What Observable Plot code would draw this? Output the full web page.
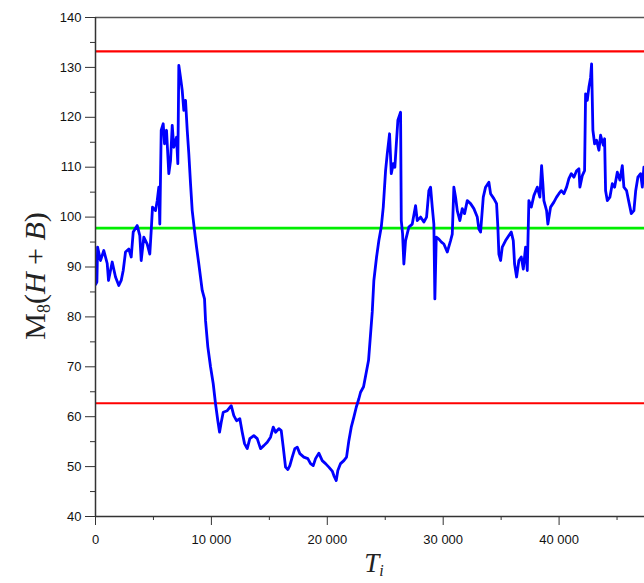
<!DOCTYPE html>
<html>
<head>
<meta charset="utf-8">
<script src="https://cdn.jsdelivr.net/npm/d3@7"></script>
<script src="https://cdn.jsdelivr.net/npm/@observablehq/plot@0.6"></script>
<style>
  html, body { margin: 0; padding: 0; background: #fff; overflow: hidden; }
</style>
</head>
<body>
<div id="chart"></div>
<script>
// Time index T_i
const T = [0, 120, 180, 431, 716, 1010, 1122, 1441, 1726, 2011, 2218, 2391, 2589, 2874, 3081, 3254, 3599, 3823, 3944, 4168, 4462, 4686, 4807, 4919, 5178, 5325, 5463, 5549, 5670, 5843, 5955, 6127, 6326, 6473, 6620, 6757, 6990, 7103, 7189, 7335, 7482, 7620, 7767, 7914, 8052, 8199, 8345, 8544, 8717, 8915, 9208, 9407,
  9493, 9692, 9925, 10158, 10356, 10555, 10702, 10849, 11021, 11366, 11711, 11936, 12168, 12453, 12660, 12859, 13092, 13316, 13661, 13955, 14240, 14524, 14818, 15103, 15336, 15534, 15819, 16026, 16199, 16397, 16596, 16768, 16975, 17200, 17407, 17631, 17976, 18321, 18555, 18787, 18986, 19271, 19564, 19849, 20134, 20427, 20565, 20772, 20910, 21144, 21428, 21661, 21860, 22067, 22292, 22499, 22723, 22870, 23129, 23560, 23880,
  24018, 24251, 24450, 24657, 24830, 25029, 25175, 25373, 25520, 25693, 25831, 25977, 26090, 26322, 26383, 26495, 26607, 26753, 27038, 27331, 27616, 27763, 28048, 28332, 28565, 28764, 28911, 29057, 29195, 29282, 29403, 29627, 29850,
  30058, 30351, 30637, 30784, 30921, 31068, 31215, 31439, 31646, 31845, 32078, 32363, 32648, 32941, 33079, 33226, 33459, 33657, 33942, 34089, 34373, 34606, 34718, 34805, 34952, 35098, 35383, 35668, 35875, 36048, 36160, 36333, 36531, 36738, 36911, 37110, 37256, 37394, 37601, 37826, 38119, 38343, 38490, 38600, 38689, 38921, 39033,
  39267, 39551, 39784, 39983, 40190, 40415, 40648, 40846, 41053, 41278, 41510, 41709, 41795, 42002, 42200, 42287, 42434, 42572, 42719, 42805, 42917, 43064, 43236, 43435, 43582, 43815, 43927, 44013, 44160, 44384, 44591, 44790, 45023, 45247, 45454, 45592, 45825, 46024, 46231, 46456, 46611, 46800, 47034, 47180, 47318, 47420];

// Moving mean M_8(H + B)
const M = [86.5, 87.0, 94.0, 91.3, 93.3, 90.7, 87.3, 91.0, 88.0, 86.3, 87.3, 89.3, 93.0, 93.6, 92.0, 97.0, 98.3, 96.3, 91.3, 96.0, 94.6, 92.6, 97.3, 102.0, 101.3, 103.3, 106.0, 98.6, 117.4, 118.7, 114.7, 117.4, 108.7, 111.3, 118.4, 114.0, 116.0, 110.7, 130.4, 128.0, 125.4, 121.4, 123.4, 117.4, 112.7, 106.7, 101.3, 97.3, 94.0, 90.6, 85.3, 83.6,
  79.3, 74.0, 70.0, 66.6, 62.6, 59.2, 56.9, 58.9, 60.9, 61.2, 62.2, 60.2, 59.2, 59.6, 56.9, 54.6, 53.6, 55.6, 56.2, 55.6, 53.6, 54.2, 54.9, 55.9, 57.9, 56.9, 57.6, 57.2, 53.9, 49.9, 49.4, 50.2, 51.9, 53.6, 53.9, 52.6, 51.9, 51.6, 50.6, 50.2, 51.6, 52.7, 51.2, 50.6, 49.9, 49.1, 48.2, 47.2, 49.2, 50.6, 51.2, 51.9, 55.2, 57.9, 59.9, 61.9, 63.6, 64.9, 66.0, 71.3, 81.0,
  87.3, 92.0, 95.3, 98.0, 102.0, 109.3, 112.7, 116.7, 108.7, 110.7, 110.0, 115.4, 119.4, 121.0, 99.3, 96.7, 90.6, 95.3, 98.0, 98.6, 102.3, 99.3, 100.0, 99.0, 100.0, 105.3, 106.0, 102.0, 98.6, 83.6, 96.0, 95.6, 95.0,
  94.6, 93.0, 95.3, 96.6, 106.0, 104.0, 101.3, 99.3, 101.7, 100.7, 103.3, 102.7, 101.7, 100.0, 97.6, 97.0, 104.0, 106.0, 107.0, 104.7, 103.7, 102.7, 98.0, 92.6, 91.3, 94.0, 95.3, 96.3, 97.0, 95.3, 90.6, 88.0, 91.3, 92.0, 89.6, 94.0, 89.3, 103.3, 102.0, 104.3, 106.0, 104.0, 110.3, 106.7, 103.3, 101.3, 98.6,
  102.0, 103.0, 104.0, 104.7, 105.3, 104.7, 106.0, 107.7, 108.7, 108.0, 109.3, 109.7, 106.0, 108.3, 109.3, 124.7, 123.4, 126.0, 128.0, 130.7, 117.4, 114.7, 115.4, 113.4, 116.4, 114.4, 115.7, 105.3, 103.3, 104.0, 106.7, 106.0, 109.0, 107.4, 110.3, 106.0, 105.3, 103.0, 100.7, 101.3, 105.3, 108.0, 108.7, 106.0, 110.0, 109.0];

// Control lines
const upperLimit = [133.2];
const centerLine = [97.8];
const lowerLimit = [62.7];

// Ticks
const xMajor = [0, 10000, 20000, 30000, 40000];
const xMinor = [5000, 15000, 25000, 35000, 45000];
const yMajor = [40, 50, 60, 70, 80, 90, 100, 110, 120, 130, 140];
const yMinor = [45, 55, 65, 75, 85, 95, 105, 115, 125, 135];

const data = T.map((t, i) => ({t, m: M[i]}));
const fmtX = d => d3.format(",")(d).replace(/,/g, " ");
const axisColor = "#333";

const chart = Plot.plot({
  width: 644,
  height: 583,
  marginLeft: 95,
  marginRight: 0,
  marginTop: 17,
  marginBottom: 67,
  style: {fontFamily: "'Liberation Sans', Arial, sans-serif", fontSize: "13px", color: "#111", background: "#fff"},
  x: {domain: [0, 47370]},
  y: {domain: [40, 140]},
  marks: [
    Plot.ruleY([140], {stroke: "#555", strokeWidth: 1.5}),
    Plot.ruleY(upperLimit, {stroke: "#ff0000", strokeWidth: 2.2}),
    Plot.ruleY(lowerLimit, {stroke: "#ff0000", strokeWidth: 2.2}),
    Plot.ruleY(centerLine, {stroke: "#00ee00", strokeWidth: 2.6}),
    Plot.line(data, {x: "t", y: "m", stroke: "#0000ff", strokeWidth: 2.8, clip: true}),
    Plot.axisY({ticks: yMajor, tickSize: 10, tickPadding: 4, label: null, stroke: axisColor, fontSize: 13}),
    Plot.axisY({ticks: yMinor, tickSize: 5, text: null, label: null, stroke: axisColor}),
    Plot.axisX({ticks: xMajor, tickSize: 9, tickPadding: 9, tickFormat: fmtX, label: null, stroke: axisColor, fontSize: 13}),
    Plot.axisX({ticks: xMinor, tickSize: 4, text: null, label: null, stroke: axisColor}),
    Plot.ruleX([0], {stroke: axisColor, strokeWidth: 1.5}),
    Plot.ruleY([40], {stroke: axisColor, strokeWidth: 1.5})
  ]
});

const svg = d3.select(chart);
const serif = "'Liberation Serif', 'DejaVu Serif', serif";

// Y axis title: M_8(H + B)
const yt = svg.append("text")
  .attr("transform", "translate(45,276) rotate(-90)")
  .attr("text-anchor", "middle")
  .attr("font-family", serif)
  .attr("font-size", 30)
  .attr("fill", "#222");
yt.append("tspan").text("M");
yt.append("tspan").attr("font-size", 18).attr("dy", 5).text("8");
yt.append("tspan").attr("dy", -5).text("(");
yt.append("tspan").attr("font-style", "italic").text("H");
yt.append("tspan").text(" + ");
yt.append("tspan").attr("font-style", "italic").text("B");
yt.append("tspan").text(")");

// X axis title: T_i
const xt = svg.append("text")
  .attr("x", 374)
  .attr("y", 572)
  .attr("text-anchor", "middle")
  .attr("font-family", serif)
  .attr("font-size", 27)
  .attr("fill", "#222");
xt.append("tspan").attr("font-style", "italic").text("T");
xt.append("tspan").attr("font-style", "italic").attr("font-size", 16).attr("dy", 4).text("i");

document.getElementById("chart").appendChild(chart);
</script>
</body>
</html>
